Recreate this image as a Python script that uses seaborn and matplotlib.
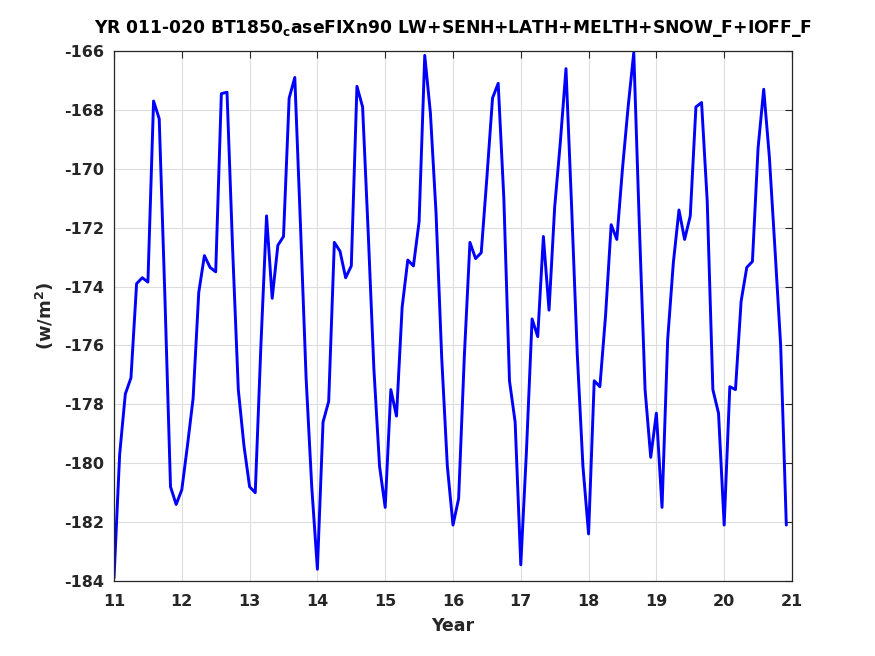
import numpy as np
import pandas as pd
import matplotlib
matplotlib.use("Agg")
import matplotlib.pyplot as plt
import seaborn as sns

# Monthly values, years 11-20 (12 per year)
yr11 = [-183.9, -179.7, -177.65, -177.1, -173.9, -173.7, -173.85, -167.7, -168.3, -174.3, -180.8, -181.4]
yr12 = [-180.9, -179.4, -177.8, -174.2, -172.95, -173.35, -173.5, -167.45, -167.4, -172.75, -177.5, -179.4]
yr13 = [-180.8, -181.0, -176.0, -171.6, -174.4, -172.6, -172.3, -167.6, -166.9, -171.9, -177.1, -180.8]
yr14 = [-183.6, -178.6, -177.9, -172.5, -172.8, -173.7, -173.3, -167.2, -167.9, -172.2, -176.8, -180.1]
yr15 = [-181.5, -177.5, -178.4, -174.7, -173.1, -173.3, -171.8, -166.15, -168.1, -171.5, -176.4, -180.1]
yr16 = [-182.1, -181.2, -176.4, -172.5, -173.05, -172.85, -170.3, -167.6, -167.1, -171.0, -177.2, -178.6]
yr17 = [-183.45, -179.6, -175.1, -175.7, -172.3, -174.8, -171.3, -169.1, -166.6, -171.3, -176.3, -180.1]
yr18 = [-182.4, -177.2, -177.4, -175.0, -171.9, -172.4, -170.0, -167.9, -166.05, -172.0, -177.5, -179.8]
yr19 = [-178.3, -181.5, -175.8, -173.2, -171.4, -172.4, -171.6, -167.9, -167.75, -171.1, -177.5, -178.3]
yr20 = [-182.1, -177.4, -177.5, -174.5, -173.35, -173.15, -169.3, -167.3, -169.6, -172.75, -176.0, -182.1]

values = yr11 + yr12 + yr13 + yr14 + yr15 + yr16 + yr17 + yr18 + yr19 + yr20
start_year = 11
months = np.arange(len(values))
years = start_year + months / 12.0

xticks = list(range(11, 22))
yticks = list(range(-184, -165, 2))

title = r"YR 011-020 BT1850$_{\mathbf{c}}$aseFIXn90 LW+SENH+LATH+MELTH+SNOW_F+IOFF_F"
xlabel = "Year"
ylabel = r"(w/m$^{\mathbf{2}}$)"

df = pd.DataFrame({"Year": years, "Flux": values})

sns.set_style("white")
plt.rcParams["font.family"] = ["DejaVu Sans"]
plt.rcParams["font.weight"] = "bold"
plt.rcParams["mathtext.default"] = "bf"

txt = "#262626"
fig = plt.figure(figsize=(8.75, 6.56), dpi=100)
ax = fig.add_axes([0.1303, 0.1143, 0.7748, 0.808])

sns.lineplot(data=df, x="Year", y="Flux", ax=ax, color="#0000ff", linewidth=2.1)

ax.set_xlim(11, 21)
ax.set_ylim(-184, -166)
ax.set_xticks(xticks)
ax.set_yticks(yticks)
ax.set_xticklabels([str(t) for t in xticks], fontsize=11.5, fontweight="bold", color=txt)
ax.set_yticklabels([str(t) for t in yticks], fontsize=11.5, fontweight="bold", color=txt)
ax.grid(True, color="#dddddd", linewidth=0.8)
ax.set_axisbelow(True)
ax.tick_params(axis="x", direction="in", length=5, width=0.8, color=txt, top=True, pad=9)
ax.tick_params(axis="y", direction="in", length=5, width=0.8, color=txt, right=True, pad=7)
for s in ax.spines.values():
    s.set_color(txt)
    s.set_linewidth(0.9)

ax.set_xlabel(xlabel, fontsize=12.5, fontweight="bold", color=txt, labelpad=6)
ax.set_ylabel(ylabel, fontsize=13, fontweight="bold", color=txt, labelpad=6)
ax.set_title(title, fontsize=12.3, fontweight="bold", color="#000000", pad=13)

fig.savefig("out.png", dpi=100)
